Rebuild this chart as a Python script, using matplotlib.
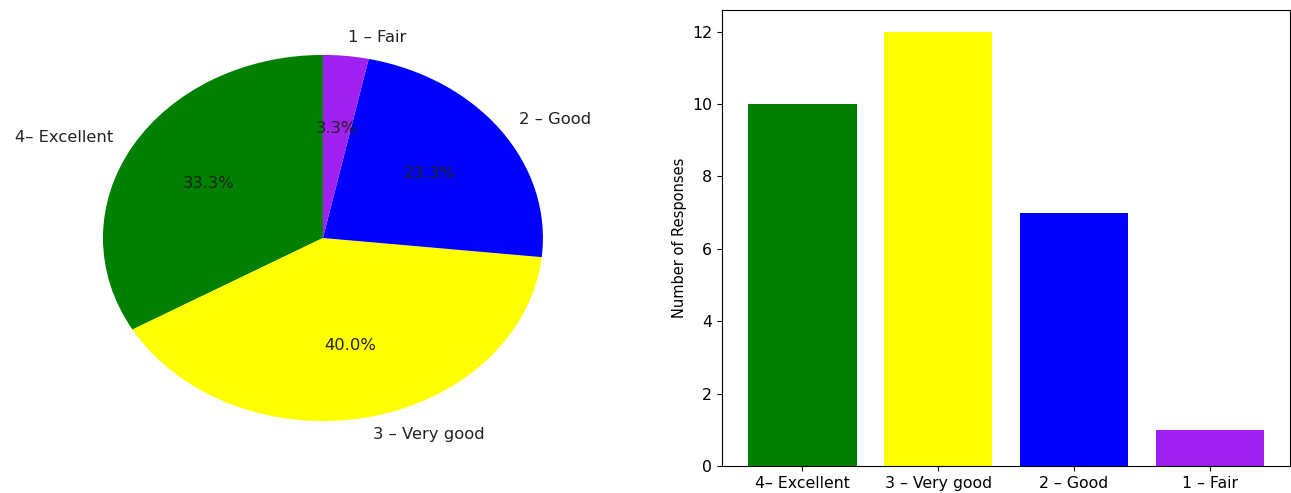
import matplotlib
matplotlib.use('Agg')
import matplotlib.pyplot as plt

# survey data
categories = ['4\u2013 Excellent', '3 \u2013 Very good', '2 \u2013 Good', '1 \u2013 Fair']
responses = [10, 12, 7, 1]
colors = ['green', 'yellow', 'blue', '#a020f0']

plt.rcParams['font.size'] = 11.3

fig = plt.figure(figsize=(12.91, 4.93), dpi=100)

# pie chart (stretched horizontally like the reference)
ax1 = fig.add_axes([0.0116, 0.0345, 0.4771, 0.9655])
ax1.pie(responses, labels=categories, colors=colors, autopct='%1.1f%%',
        startangle=90, textprops={'color': '#222222', 'fontsize': 11.8})
ax1.set_aspect('auto')
ax1.set_xlim(-1.4, 1.4)
ax1.set_ylim(-1.3, 1.3)

# bar chart
ax2 = fig.add_axes([0.5593, 0.0548, 0.4400, 0.925])
ax2.bar(categories, responses, color=colors)
ax2.set_ylabel('Number of Responses', fontsize=10.5)

fig.savefig('out.png', dpi=100)
